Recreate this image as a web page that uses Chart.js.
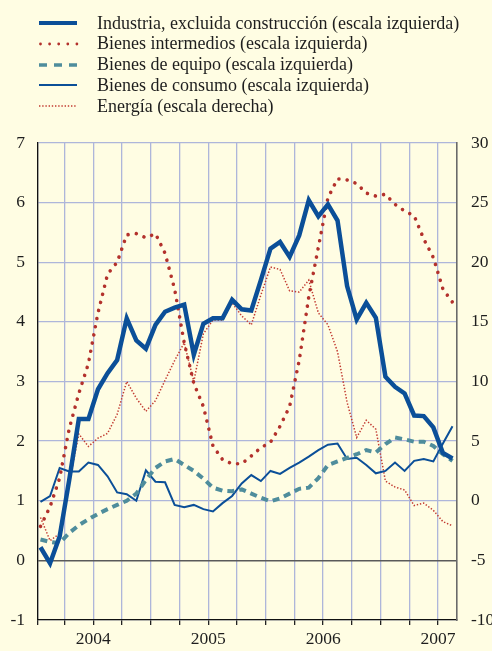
<!DOCTYPE html>
<html lang="es">
<head>
<meta charset="utf-8">
<script src="https://cdn.jsdelivr.net/npm/chart.js@4.4.0/dist/chart.umd.min.js"></script>
<style>
html,body{margin:0;padding:0;background:#fffde3;}
#wrap{position:relative;width:492px;height:651px;overflow:hidden;background:#fffde3;}
#c{position:absolute;left:0;top:0;}
#legend{position:absolute;left:0;top:0;width:492px;height:120px;}
.row{position:absolute;left:0;height:20px;width:492px;}
.row svg{position:absolute;left:39px;top:6.5px;}
.row span{position:absolute;left:97px;top:0;line-height:20px;font-size:18px;font-family:'Liberation Serif','Times New Roman',serif;color:#1e1e1e;white-space:nowrap;}
</style>
</head>
<body>
<div id="wrap">
<canvas id="c" width="492" height="651"></canvas>
<div id="legend"></div>
</div>
<script>
// Monthly observations, January 2004 – August 2007
const months = [
 '2004-01','2004-02','2004-03','2004-04','2004-05','2004-06','2004-07','2004-08','2004-09','2004-10','2004-11','2004-12',
 '2005-01','2005-02','2005-03','2005-04','2005-05','2005-06','2005-07','2005-08','2005-09','2005-10','2005-11','2005-12',
 '2006-01','2006-02','2006-03','2006-04','2006-05','2006-06','2006-07','2006-08','2006-09','2006-10','2006-11','2006-12',
 '2007-01','2007-02','2007-03','2007-04','2007-05','2007-06','2007-07','2007-08'
];
const years = ['2004','2005','2006','2007'];

// Left scale (%)
const industria = [0.22,-0.05,0.40,1.35,2.37,2.37,2.87,3.14,3.36,4.06,3.69,3.55,
 3.95,4.17,4.24,4.29,3.45,3.97,4.06,4.06,4.37,4.21,4.19,4.70,
 5.23,5.34,5.09,5.45,6.04,5.77,5.97,5.70,4.60,4.04,4.32,4.07,
 3.08,2.91,2.80,2.43,2.42,2.23,1.80,1.71];
const intermedios = [0.57,0.90,1.38,2.21,2.80,3.30,4.15,4.80,5.00,5.46,5.48,5.41,
 5.48,5.15,4.55,3.65,2.97,2.58,1.92,1.69,1.62,1.62,1.75,1.89,
 1.98,2.25,2.58,3.35,4.42,5.25,6.08,6.40,6.38,6.32,6.16,6.11,
 6.14,5.97,5.86,5.78,5.39,5.08,4.55,4.33];
const equipo = [0.35,0.31,0.29,0.46,0.59,0.69,0.78,0.86,0.93,1.00,1.12,1.35,
 1.55,1.66,1.70,1.60,1.50,1.37,1.22,1.17,1.16,1.19,1.12,1.05,
 0.99,1.04,1.12,1.20,1.22,1.38,1.60,1.66,1.72,1.78,1.85,1.81,
 1.95,2.06,2.03,1.99,1.99,1.92,1.78,1.67];
const consumo = [0.98,1.08,1.55,1.49,1.49,1.64,1.60,1.41,1.14,1.11,1.00,1.51,
 1.32,1.31,0.93,0.89,0.93,0.86,0.82,0.96,1.08,1.29,1.43,1.33,
 1.50,1.45,1.55,1.64,1.74,1.85,1.94,1.96,1.70,1.72,1.60,1.46,
 1.50,1.64,1.50,1.67,1.70,1.66,1.96,2.25];
// Right scale (%)
const energia = [-1.4,-3.35,-2.75,1.5,5.6,4.55,5.25,5.65,7.25,10.0,8.6,7.5,
 8.4,10.1,11.75,13.25,10.0,14.0,15.15,15.15,16.6,15.5,14.75,17.25,
 19.6,19.4,17.6,17.5,18.5,15.75,14.75,12.5,8.25,5.3,6.75,6.0,
 1.65,1.15,0.9,-0.4,-0.2,-0.8,-1.75,-2.1];

const leftTicks = {min:-1, max:7, step:1};
const rightTicks = {min:-10, max:30, step:5};

const toXY = arr => arr.map((v,i)=>({x:i, y:v}));
const FONT = "'Liberation Serif','Times New Roman',serif";
const BLUE = '#0b4f98';
const RED = '#b3312c';
const TEAL = '#4f8d9c';
const GRID = '#aeb6da';

const datasets = [
 {label:'Industria, excluida construcción (escala izquierda)', data:toXY(industria), yAxisID:'y',
  borderColor:BLUE, borderWidth:4.5, lg:{w:4, dash:'', cap:'butt'}},
 {label:'Bienes intermedios (escala izquierda)', data:toXY(intermedios), yAxisID:'y',
  borderColor:RED, borderWidth:3.6, borderDash:[0.01,8.3], borderCapStyle:'round', lg:{w:2.8, dash:'0 9.1', cap:'round'}},
 {label:'Bienes de equipo (escala izquierda)', data:toXY(equipo), yAxisID:'y',
  borderColor:TEAL, borderWidth:4, borderDash:[7,5], lg:{w:3.6, dash:'8 7', cap:'butt'}},
 {label:'Bienes de consumo (escala izquierda)', data:toXY(consumo), yAxisID:'y',
  borderColor:BLUE, borderWidth:2, lg:{w:2, dash:'', cap:'butt'}},
 {label:'Energía (escala derecha)', data:toXY(energia), yAxisID:'y1',
  borderColor:'#c23a31', borderWidth:1.5, borderDash:[1.4,1.8], lg:{w:1.5, dash:'1.4 1.8', cap:'butt'}}
];
datasets.forEach(d=>{ d.pointRadius=0; d.pointHoverRadius=0; d.tension=0; d.fill=false; d.borderJoinStyle='miter'; });

const X_MIN = -0.26, X_MAX = 43.47;

const chart = new Chart(document.getElementById('c'), {
 type:'line',
 data:{labels:months, datasets:datasets},
 options:{
  responsive:false, animation:false, devicePixelRatio:1,
  layout:{padding:{top:143,left:0,right:0,bottom:0}},
  plugins:{legend:{display:false}, tooltip:{enabled:false}},
  scales:{
   x:{type:'linear', min:X_MIN, max:X_MAX,
      afterBuildTicks:s=>{ const t=[{value:X_MIN}]; for(let v=2.5; v<X_MAX; v+=3) t.push({value:v}); s.ticks=t; },
      afterFit:s=>{ s.height=31; },
      grid:{color:GRID, lineWidth:1.3, tickColor:'#222', tickLength:5, drawTicks:true},
      border:{color:'#111', width:1.3},
      ticks:{autoSkip:false, maxRotation:0, padding:4, color:'#1e1e1e', font:{family:FONT, size:17.5},
        callback:(v)=>{ const k=(v-5.5)/12; return (Math.abs(k-Math.round(k))<1e-6 && k>=0 && k<years.length) ? years[Math.round(k)] : ''; }}
   },
   y:{position:'left', min:leftTicks.min, max:leftTicks.max,
      afterFit:s=>{ s.width=38; },
      ticks:{stepSize:leftTicks.step, padding:13, color:'#1e1e1e', font:{family:FONT, size:17.5}},
      grid:{drawTicks:false, color:c=> (c.tick && c.tick.value===0) ? '#5a5a5a' : GRID,
            lineWidth:c=> (c.tick && c.tick.value===0) ? 1.6 : 1.3},
      border:{color:'#111', width:1.3}
   },
   y1:{position:'right', min:rightTicks.min, max:rightTicks.max,
      afterFit:s=>{ s.width=35; },
      ticks:{stepSize:rightTicks.step, padding:14, color:'#1e1e1e', font:{family:FONT, size:17.5}},
      grid:{display:false, drawTicks:false},
      border:{color:'#6a6a6a', width:1.6}
   }
  }
 }
});

// HTML legend built from the chart's datasets
const legendEl = document.getElementById('legend');
chart.data.datasets.forEach((ds,k)=>{
 const row = document.createElement('div');
 row.className='row';
 row.style.top = (12.5 + 20.8*k) + 'px';
 const lg = ds.lg;
 const x1 = lg.cap==='round' ? 1.5 : 0;
 row.innerHTML = '<svg width="40" height="8"><line x1="'+x1+'" y1="4" x2="38" y2="4" stroke="'+ds.borderColor+
   '" stroke-width="'+lg.w+'"'+(lg.dash?' stroke-dasharray="'+lg.dash+'"':'')+' stroke-linecap="'+lg.cap+'"/></svg>';
 const sp = document.createElement('span');
 sp.textContent = ds.label;
 row.appendChild(sp);
 legendEl.appendChild(row);
});
</script>
</body>
</html>
